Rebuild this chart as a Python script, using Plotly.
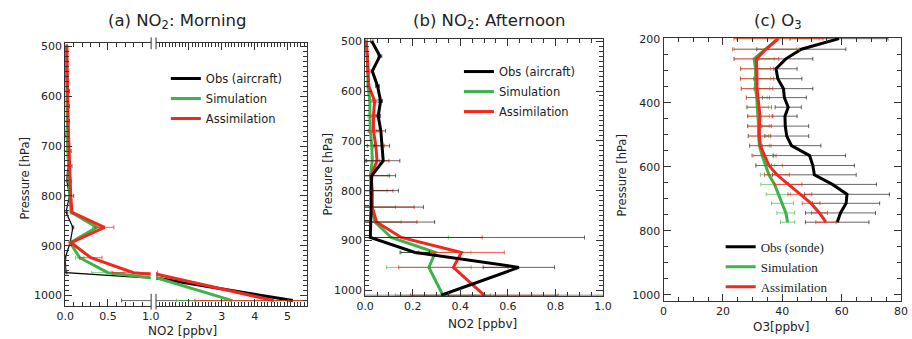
import plotly.graph_objects as go

W, H = 912, 339

# ---------------- data ----------------
# NO2 pressure levels (hPa) for panels (a) and (b)
no2_levels = [500, 530, 560, 590, 620, 650, 680, 710, 740, 770, 800, 833, 863, 894, 924, 954, 1010]

# (a) NO2 Morning
obs_a = [0.01, 0.01, 0.01, 0.02, 0.02, 0.02, 0.01, 0.03, 0.03, 0.02, 0.05, 0.01, 0.09, 0.058, 0.0, 0.01, 5.16]
obs_a_err = [0.02, 0.02, 0.02, 0.03, 0.03, 0.03, 0.03, 0.04, 0.05, 0.05, 0.05, 0.02, 0.01, 0.01, 0.01, 0.01, 4.5]
sim_a = [0.01, 0.012, 0.015, 0.018, 0.02, 0.02, 0.025, 0.03, 0.04, 0.045, 0.055, 0.07, 0.37, 0.06, 0.17, 0.5, 3.32]
sim_a_err = [0.005, 0.005, 0.005, 0.005, 0.005, 0.005, 0.005, 0.005, 0.01, 0.01, 0.01, 0.01, 0.05, 0.01, 0.05, 0.19, 1.7]
ass_a = [0.02, 0.02, 0.025, 0.03, 0.03, 0.035, 0.04, 0.045, 0.05, 0.055, 0.065, 0.08, 0.46, 0.07, 0.3, 0.8, 4.58]
ass_a_err = [0.005, 0.005, 0.005, 0.005, 0.005, 0.005, 0.005, 0.01, 0.01, 0.01, 0.01, 0.01, 0.11, 0.01, 0.13, 0.25, 2.4]

# (b) NO2 Afternoon
obs_b = [0.028, 0.062, 0.030, 0.052, 0.065, 0.055, 0.066, 0.070, 0.076, 0.028, 0.025, 0.025, 0.022, 0.022, 0.21, 0.646, 0.32]
obs_b_err = [0.005, 0.008, 0.005, 0.008, 0.008, 0.01, 0.02, 0.033, 0.07, 0.1, 0.115, 0.22, 0.27, 0.9, 0.06, 0.15, 0.7]
sim_b = [0.005, 0.01, 0.012, 0.012, 0.02, 0.02, 0.022, 0.028, 0.03, 0.022, 0.025, 0.028, 0.041, 0.11, 0.295, 0.268, 0.327]
sim_b_err = [0.003, 0.003, 0.003, 0.004, 0.005, 0.008, 0.01, 0.02, 0.03, 0.074, 0.067, 0.1, 0.11, 0.24, 0.15, 0.178, 0.2]
ass_b = [0.005, 0.01, 0.012, 0.015, 0.04, 0.035, 0.035, 0.045, 0.05, 0.025, 0.03, 0.03, 0.048, 0.152, 0.405, 0.371, 0.501]
ass_b_err = [0.004, 0.004, 0.004, 0.005, 0.01, 0.015, 0.02, 0.035, 0.05, 0.078, 0.087, 0.176, 0.17, 0.34, 0.18, 0.23, 0.31]

# (c) O3
o3_levels = [200, 233, 263, 294, 325, 356, 384, 414, 442, 473, 504, 534, 565, 596, 625, 655, 686, 714, 744, 773]
obs_c = [59.1, 46.4, 41.2, 37.9, 38.5, 40.4, 40.7, 42.0, 40.9, 41.0, 41.5, 43.1, 49.2, 50.3, 50.8, 56.9, 61.8, 61.5, 59.6, 58.5]
obs_c_err = [16.5, 15, 9.1, 7.1, 8.1, 9.9, 7.4, 4.4, 4.1, 7.9, 7.4, 9.9, 12.1, 14, 14.1, 14.8, 14.3, 11.3, 11.8, 10.7]
sim_c = [38.5, 34.3, 30.5, 31.0, 31.0, 31.0, 31.4, 31.6, 32.0, 32.0, 32.0, 32.3, 33.2, 34.3, 35.5, 37.4, 38.7, 40.1, 41.2, 41.8]
sim_c_err = [14, 10.5, 6.8, 5.0, 5.0, 4.8, 3.5, 3.7, 3.7, 3.6, 3.4, 3.3, 3.5, 3.0, 2.9, 4.6, 4.1, 3.7, 3.0, 2.4]
ass_c = [38.7, 34.5, 31.3, 31.5, 31.5, 31.5, 31.8, 32.3, 32.5, 32.3, 32.3, 32.6, 34.0, 35.5, 38.2, 42.0, 45.9, 49.7, 52.5, 54.7]
ass_c_err = [15, 11.2, 7.5, 5.6, 5.6, 5.3, 3.9, 4.1, 4.1, 4.0, 3.8, 3.6, 3.9, 4.5, 4.2, 4.6, 4.0, 3.0, 2.7, 3.4]

titles = ["(a) NO<sub>2</sub>: Morning", "(b) NO<sub>2</sub>: Afternoon", "(c) O<sub>3</sub>"]
x_titles = ["NO2 [ppbv]", "NO2 [ppbv]", "O3[ppbv]"]
y_title = "Pressure [hPa]"
names_no2 = ["Obs (aircraft)", "Simulation", "Assimilation"]
names_o3 = ["Obs (sonde)", "Simulation", "Assimilation"]
xb_ticks = [2, 3, 4, 5]

# ---------------- style ----------------
BLACK = "#000000"
GREEN = "#3cb44a"
RED = "#f0281e"
ERR_BLACK = "rgba(0,0,0,0.6)"
ERR_GREEN = "rgba(60,180,74,0.65)"
ERR_RED = "rgba(240,40,30,0.75)"
SANS = "DejaVu Sans"
SERIF = "Liberation Serif"
AX = "#333333"

def px2fx(p):
    return p / W

def px2fy(p):
    return 1 - p / H

fig = go.Figure()

def add(x, y, err, color, ecolor, name, xa, ya, width, legend=None, rank=1):
    fig.add_trace(go.Scatter(
        x=x, y=y, mode="lines", name=name,
        line=dict(color=color, width=width),
        error_x=dict(type="data", array=err, visible=True, color=ecolor, thickness=1, width=2),
        xaxis=xa, yaxis=ya,
        showlegend=legend is not None,
        legend=legend if legend else "legend",
        legendgroup=(legend or "") + name, legendrank=rank,
    ))

# panel (a): broken axis -> two subplots sharing y
for xa, ya, lg in (("x", "y", None), ("x2", "y2", "legend")):
    add(obs_a, no2_levels, obs_a_err, BLACK, ERR_BLACK, names_no2[0], xa, ya, 1.2 if xa == "x" else 3, lg, 1)
    add(sim_a, no2_levels, sim_a_err, GREEN, ERR_GREEN, names_no2[1], xa, ya, 3, lg, 2)
    add(ass_a, no2_levels, ass_a_err, RED, ERR_RED, names_no2[2], xa, ya, 3, lg, 3)

# panel (b)
add(sim_b, no2_levels, sim_b_err, GREEN, ERR_GREEN, names_no2[1], "x3", "y3", 3, "legend2", 2)
add(ass_b, no2_levels, ass_b_err, RED, ERR_RED, names_no2[2], "x3", "y3", 3, "legend2", 3)
add(obs_b, no2_levels, obs_b_err, BLACK, ERR_BLACK, names_no2[0], "x3", "y3", 3, "legend2", 1)

# panel (c)
add(obs_c, o3_levels, obs_c_err, BLACK, ERR_BLACK, names_o3[0], "x4", "y4", 3, "legend3", 1)
add(sim_c, o3_levels, sim_c_err, GREEN, ERR_GREEN, names_o3[1], "x4", "y4", 3, "legend3", 2)
add(ass_c, o3_levels, ass_c_err, RED, ERR_RED, names_o3[2], "x4", "y4", 3, "legend3", 3)

tickfont = dict(family=SANS, size=11, color="#222")

def xax(dom, rng, dtick, minor, anchor, **kw):
    d = dict(domain=[px2fx(dom[0]), px2fx(dom[1])], range=rng, anchor=anchor,
             showline=True, linecolor=AX, linewidth=1, mirror="ticks",
             ticks="inside", ticklen=7, tickcolor=AX, tickwidth=1,
             showgrid=False, zeroline=False, tickfont=tickfont,
             minor=dict(ticks="inside", ticklen=4, dtick=minor, tick0=0, tickcolor=AX, showgrid=False))
    if dtick is not None:
        d.update(dtick=dtick, tick0=0)
    d.update(kw)
    return d

def yax(dom, rng, dtick, minor, anchor, **kw):
    d = dict(domain=[px2fy(dom[1]), px2fy(dom[0])], range=rng, anchor=anchor,
             showline=True, linecolor=AX, linewidth=1, mirror="ticks",
             ticks="inside", ticklen=7, tickcolor=AX, tickwidth=1,
             showgrid=False, zeroline=False, tickfont=tickfont, dtick=dtick, tick0=0,
             minor=dict(ticks="inside", ticklen=4, dtick=minor, tick0=0, tickcolor=AX, showgrid=False))
    d.update(kw)
    return d

ya_dom = (39, 306)
yb_dom = (34.3, 296)
yc_dom = (33.3, 301)

legfont = dict(family=SANS, size=11.5, color="#222")
fig.update_layout(
    width=W, height=H, margin=dict(l=0, r=0, t=0, b=0),
    paper_bgcolor="white", plot_bgcolor="white",
    font=dict(family=SANS, size=11, color="#222"),
    xaxis=xax((57.3, 144.5), [0, 1.0], 0.5, 0.1, "y", tickformat=".1f"),
    xaxis2=xax((150, 304.3), [1.0, 5.6], None, 0.1, "y2",
               tickmode="array", tickvals=xb_ticks),
    xaxis3=xax((363.3, 606), [0, 1.0], 0.2, 0.05, "y3", tickformat=".1f"),
    xaxis4=xax((667.7, 910), [0, 80], 20, 5, "y4"),
    yaxis=yax(ya_dom, [1020, 494], 100, 10, "x", mirror=False),
    yaxis2=yax(ya_dom, [1020, 494], 100, 10, "x2", matches="y", side="right",
               mirror=False, showticklabels=False),
    yaxis3=yax(yb_dom, [1011, 495], 100, 10, "x3"),
    yaxis4=yax(yc_dom, [1018, 197], 200, 50, "x4"),
    legend=dict(x=px2fx(160), y=px2fy(60), xanchor="left", yanchor="top",
                font=legfont, bgcolor="rgba(0,0,0,0)",
                traceorder="grouped", tracegroupgap=1),
    legend2=dict(x=px2fx(459), y=px2fy(53), xanchor="left", yanchor="top",
                 font=legfont, bgcolor="rgba(0,0,0,0)",
                 traceorder="grouped", tracegroupgap=1),
    legend3=dict(x=px2fx(726), y=px2fy(231), xanchor="left", yanchor="top",
                 font=dict(family=SERIF, size=13, color="#222"), bgcolor="rgba(0,0,0,0)",
                 traceorder="grouped", tracegroupgap=0),
)

# panel titles and axis titles
ann = []
for t, cx in zip(titles, (172, 490, 784)):
    ann.append(dict(text=t, x=px2fx(cx), y=px2fy(17), xref="paper", yref="paper",
                    showarrow=False, font=dict(family=SANS, size=16.5, color="#222"),
                    xanchor="center", yanchor="middle"))
for t, cx, cy in zip(x_titles, (177, 483, 788), (332, 325, 328)):
    ann.append(dict(text=t, x=px2fx(cx), y=px2fy(cy), xref="paper", yref="paper",
                    showarrow=False, font=dict(family=SANS, size=12, color="#222"),
                    xanchor="center", yanchor="middle"))
for cx, cy in ((16, 176), (325, 172), (625, 173)):
    ann.append(dict(text=y_title, x=px2fx(cx), y=px2fy(cy), xref="paper", yref="paper",
                    showarrow=False, textangle=-90, font=dict(family=SANS, size=11.5, color="#222"),
                    xanchor="center", yanchor="middle"))
fig.update_layout(annotations=ann)

# axis-break marks for panel (a)
shapes = []
for bx in (145, 150):
    for y0, y1 in ((33, 45), (294, 310)):
        shapes.append(dict(type="line", xref="paper", yref="paper",
                           x0=px2fx(bx), x1=px2fx(bx), y0=px2fy(y0), y1=px2fy(y1),
                           line=dict(color=AX, width=1)))
fig.update_layout(shapes=shapes)

fig.write_html("out.html")
